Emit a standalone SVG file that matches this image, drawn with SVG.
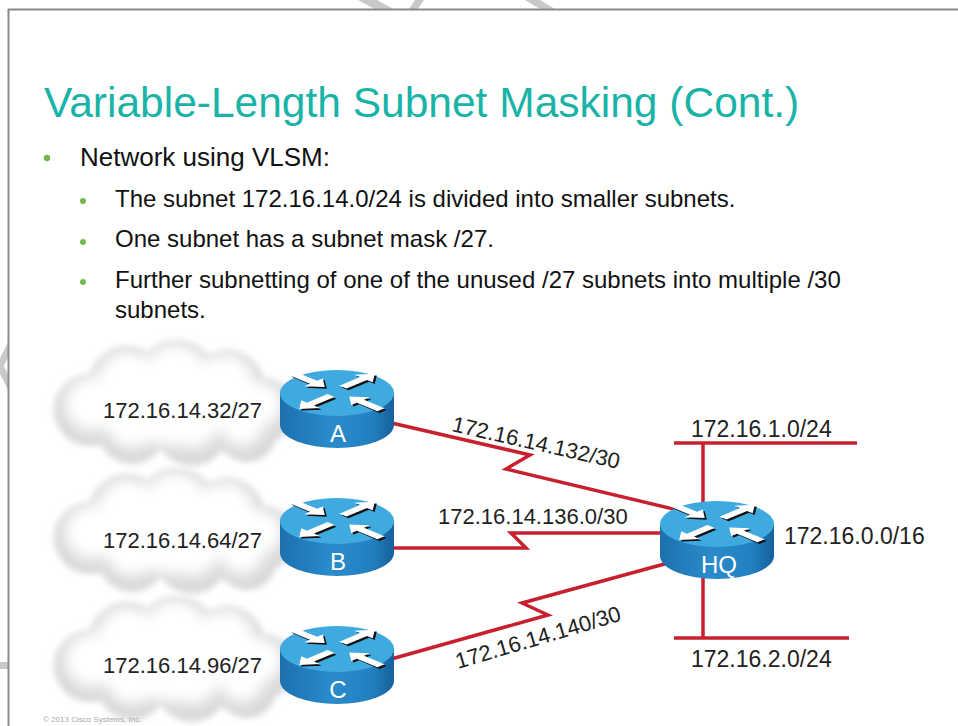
<svg xmlns="http://www.w3.org/2000/svg" xmlns:xlink="http://www.w3.org/1999/xlink" width="958" height="726" viewBox="0 0 958 726">
  <style>
    .title { font-family: "Liberation Sans", Arial, sans-serif; font-size: 42.5px; fill: #19b3a7; }
    .b1 { font-family: "Liberation Sans", Arial, sans-serif; font-size: 26px; fill: #111; }
    .b2 { font-family: "Liberation Sans", Arial, sans-serif; font-size: 24px; fill: #111; }
    .dot { fill: #72b84a; }
    .lbl { font-family: "Liberation Sans", Arial, sans-serif; font-size: 22px; fill: #222; }
    .net { font-family: "Liberation Sans", Arial, sans-serif; font-size: 23px; fill: #222; }
    .rname { font-family: "Liberation Sans", Arial, sans-serif; font-size: 24px; fill: #fff; text-anchor: middle; }
    .link { fill: none; stroke: #c8202f; stroke-width: 3.5; stroke-linejoin: miter; }
    .mark { fill: #c9c9c9; }
    .copy { font-family: "Liberation Sans", Arial, sans-serif; font-size: 8px; fill: #a8a8a8; }
  </style>
  <defs>
    <linearGradient id="side" x1="0" y1="0" x2="1" y2="0">
      <stop offset="0" stop-color="#1d70ae"/>
      <stop offset="0.45" stop-color="#2a8bcb"/>
      <stop offset="0.8" stop-color="#2280c0"/>
      <stop offset="1" stop-color="#17609b"/>
    </linearGradient>
    <filter id="soft" x="-20%" y="-20%" width="140%" height="140%">
      <feGaussianBlur stdDeviation="3"/>
    </filter>
    <filter id="softer" x="-30%" y="-30%" width="160%" height="160%">
      <feGaussianBlur stdDeviation="7"/>
    </filter>
    <!-- arrow pointing along +x, tail at origin -->
    <path id="arr" d="M0,-5 H29 V-13 L45,0 L29,13 V5 H0 Z"/>
    <g id="arrows">
      <use xlink:href="#arr" transform="translate(-44,-46) rotate(45)"/>
      <use xlink:href="#arr" transform="translate(6,-14) rotate(-45)"/>
      <use xlink:href="#arr" transform="translate(-6,6) rotate(135)"/>
      <use xlink:href="#arr" transform="translate(44,40) rotate(225)"/>
    </g>
    <!-- router cylinder, origin at centre of the top face -->
    <g id="router">
      <path d="M-57,0 L-57,32 A57,23 0 0 0 57,32 L57,0 Z" fill="url(#side)"/>
      <ellipse cx="0" cy="0" rx="57" ry="23" fill="#3faae0"/>
      <g transform="scale(1,0.42)">
        <use xlink:href="#arrows" fill="#111" transform="translate(2,4)"/>
        <use xlink:href="#arrows" fill="#fff"/>
      </g>
    </g>
    <!-- soft cloud, origin at its centre -->
    <g id="cloud">
      <g fill="#d9d9d9" filter="url(#soft)">
        <circle cx="-82" cy="8" r="36"/>
        <circle cx="-45" cy="-18" r="38"/>
        <circle cx="5" cy="-22" r="40"/>
        <circle cx="55" cy="-14" r="38"/>
        <circle cx="92" cy="8" r="32"/>
        <circle cx="-40" cy="28" r="34"/>
        <circle cx="20" cy="28" r="36"/>
        <circle cx="75" cy="30" r="30"/>
      </g>
      <g fill="#ffffff" filter="url(#softer)">
        <circle cx="-80" cy="2" r="27"/>
        <circle cx="-45" cy="-22" r="29"/>
        <circle cx="3" cy="-27" r="31"/>
        <circle cx="53" cy="-19" r="29"/>
        <circle cx="88" cy="2" r="22"/>
        <circle cx="-40" cy="20" r="26"/>
        <circle cx="20" cy="18" r="28"/>
        <circle cx="70" cy="22" r="22"/>
        <circle cx="0" cy="0" r="44"/>
      </g>
    </g>
  </defs>

  <rect width="958" height="726" fill="#fff"/>

  <!-- background marks peeking out behind the slide -->
  <g id="backdrop">
    <polygon class="mark" points="358,0 377,0 399,12 380,12"/>
    <polygon class="mark" points="415,0 424,0 416,12 407,12"/>
    <polygon class="mark" points="525,0 540,0 560,12 545,12"/>
    <polyline points="14,338 0,366 14,394" fill="none" stroke="#c9c9c9" stroke-width="7"/>
    <rect class="mark" x="0" y="662" width="10" height="7"/>
  </g>

  <!-- slide sheet -->
  <g id="slide">
    <rect x="9" y="10" width="949" height="716" fill="#fff"/>
    <line x1="8" y1="9.5" x2="958" y2="9.5" stroke="#8a8a8a" stroke-width="2"/>
    <line x1="8.5" y1="9" x2="8.5" y2="726" stroke="#8a8a8a" stroke-width="2"/>
  </g>

  <!-- heading and bullets -->
  <g id="text">
    <text class="title" x="44" y="117">Variable-Length Subnet Masking (Cont.)</text>
    <circle class="dot" cx="47" cy="158" r="3.2"/>
    <text class="b1" x="80" y="166">Network using VLSM:</text>
    <circle class="dot" cx="83" cy="201" r="3"/>
    <text class="b2" x="115" y="207">The subnet 172.16.14.0/24 is divided into smaller subnets.</text>
    <circle class="dot" cx="83" cy="242" r="3"/>
    <text class="b2" x="115" y="247">One subnet has a subnet mask /27.</text>
    <circle class="dot" cx="83" cy="282" r="3"/>
    <text class="b2" x="115" y="288">Further subnetting of one of the unused /27 subnets into multiple /30</text>
    <text class="b2" x="115" y="318">subnets.</text>
  </g>

  <!-- LAN clouds -->
  <g id="cloud-a">
    <use xlink:href="#cloud" transform="translate(172,402)"/>
    <text class="lbl" x="103" y="418">172.16.14.32/27</text>
  </g>
  <g id="cloud-b">
    <use xlink:href="#cloud" transform="translate(172,530)"/>
    <text class="lbl" x="103" y="548">172.16.14.64/27</text>
  </g>
  <g id="cloud-c">
    <use xlink:href="#cloud" transform="translate(172,658)"/>
    <text class="lbl" x="103" y="673">172.16.14.96/27</text>
  </g>

  <!-- links -->
  <g id="connectors">
    <polyline class="link" points="370,418 530,455 506,469 690,513"/>
    <polyline class="link" points="370,548 526,548 511,533 690,533"/>
    <polyline class="link" points="370,665 548,615 522,603 690,557"/>
    <line class="link" x1="703" y1="443" x2="703" y2="639"/>
    <line class="link" x1="674" y1="443" x2="857" y2="443"/>
    <line class="link" x1="674" y1="638" x2="849" y2="638"/>
    <text class="lbl" transform="translate(451,431) rotate(12.8)">172.16.14.132/30</text>
    <text class="lbl" x="438" y="524">172.16.14.136.0/30</text>
    <text class="lbl" transform="translate(458,669) rotate(-16.5)">172.16.14.140/30</text>
    <text class="net" x="691" y="437">172.16.1.0/24</text>
    <text class="net" x="691" y="667">172.16.2.0/24</text>
    <text class="net" x="784" y="544">172.16.0.0/16</text>
  </g>

  <!-- routers -->
  <g id="router-a">
    <use xlink:href="#router" transform="translate(337,393)"/>
    <text class="rname" x="338" y="442">A</text>
  </g>
  <g id="router-b">
    <use xlink:href="#router" transform="translate(337,521)"/>
    <text class="rname" x="338" y="570">B</text>
  </g>
  <g id="router-c">
    <use xlink:href="#router" transform="translate(337,649)"/>
    <text class="rname" x="338" y="698">C</text>
  </g>
  <g id="router-hq">
    <use xlink:href="#router" transform="translate(717,524)"/>
    <text class="rname" x="719" y="573">HQ</text>
  </g>

  <text class="copy" x="43" y="722">© 2013 Cisco Systems, Inc.</text>
</svg>
